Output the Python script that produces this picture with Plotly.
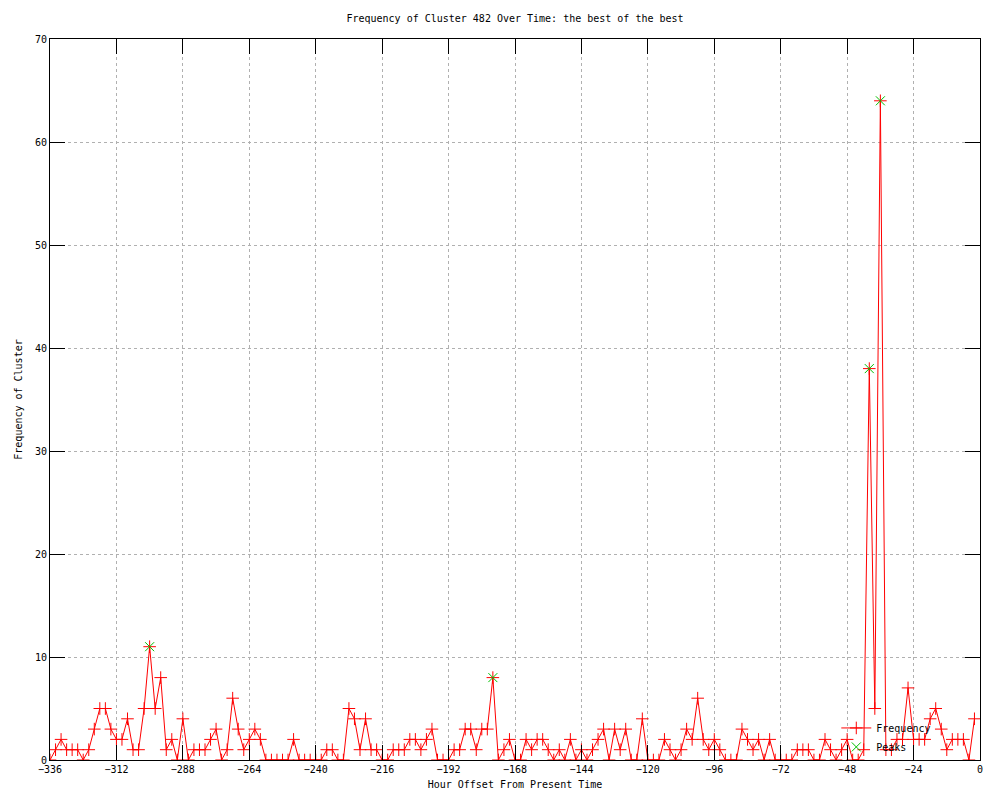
import plotly.graph_objects as go

# Hour offsets (every 2 hours) from -336 to -2
hours = [-336, -334, -332, -330, -328, -326, -324, -322, -320, -318, -316, -314,
         -312, -310, -308, -306, -304, -302, -300, -298, -296, -294, -292, -290,
         -288, -286, -284, -282, -280, -278, -276, -274, -272, -270, -268, -266,
         -264, -262, -260, -258, -256, -254, -252, -250, -248, -246, -244, -242,
         -240, -238, -236, -234, -232, -230, -228, -226, -224, -222, -220, -218,
         -216, -214, -212, -210, -208, -206, -204, -202, -200, -198, -196, -194,
         -192, -190, -188, -186, -184, -182, -180, -178, -176, -174, -172, -170,
         -168, -166, -164, -162, -160, -158, -156, -154, -152, -150, -148, -146,
         -144, -142, -140, -138, -136, -134, -132, -130, -128, -126, -124, -122,
         -120, -118, -116, -114, -112, -110, -108, -106, -104, -102, -100, -98,
         -96, -94, -92, -90, -88, -86, -84, -82, -80, -78, -76, -74,
         -72, -70, -68, -66, -64, -62, -60, -58, -56, -54, -52, -50,
         -48, -46, -44, -42, -40, -38, -36, -34, -32, -30, -28, -26,
         -24, -22, -20, -18, -16, -14, -12, -10, -8, -6, -4, -2]

frequency = [0, 1, 2, 1, 1, 1, 0, 1, 3, 5, 5, 3,
             2, 2, 4, 1, 1, 5, 11, 5, 8, 1, 2, 0,
             4, 0, 1, 1, 1, 2, 3, 0, 1, 6, 3, 1,
             2, 3, 2, 0, 0, 0, 0, 0, 2, 0, 0, 0,
             0, 0, 1, 1, 0, 0, 5, 4, 1, 4, 1, 1,
             0, 0, 1, 1, 1, 2, 2, 1, 2, 3, 0, 0,
             0, 1, 1, 3, 3, 1, 3, 3, 8, 0, 1, 2,
             0, 0, 2, 1, 2, 2, 1, 0, 1, 0, 2, 0,
             1, 0, 1, 2, 3, 0, 3, 1, 3, 0, 0, 4,
             0, 0, 0, 2, 1, 0, 1, 3, 2, 6, 2, 1,
             2, 1, 0, 0, 0, 3, 2, 1, 2, 0, 2, 0,
             0, 0, 0, 1, 1, 1, 0, 0, 2, 1, 0, 1,
             2, 0, 0, 1, 38, 5, 64, 1, 1, 2, 2, 7,
             2, 2, 2, 4, 5, 3, 1, 2, 2, 2, 0, 4]

peak_hours = [-300, -176, -40, -36]
peak_values = [11, 8, 38, 64]

x_ticks = [-336, -312, -288, -264, -240, -216, -192, -168, -144, -120, -96, -72, -48, -24, 0]
y_ticks = [0, 10, 20, 30, 40, 50, 60, 70]

FONT = "DejaVu Sans Mono"

fig = go.Figure()
fig.add_trace(go.Scatter(
    x=hours, y=frequency, mode="lines+markers", name="Frequency",
    line=dict(color="#ff0000", width=1),
    marker=dict(symbol="cross-thin", size=9, color="#ff0000",
                line=dict(color="#ff0000", width=1)),
))
fig.add_trace(go.Scatter(
    x=peak_hours, y=peak_values, mode="markers", name="Peaks",
    marker=dict(symbol="x-thin", size=9, color="#00c000",
                line=dict(color="#00c000", width=1)),
))

axis_common = dict(
    showline=True, linecolor="black", linewidth=1, mirror="allticks",
    ticks="inside", ticklen=15, tickcolor="black", tickwidth=1,
    showgrid=True, gridcolor="#b0b0b0", griddash="dot", gridwidth=1,
    zeroline=False,
    tickfont=dict(family=FONT, size=10, color="black"),
)

fig.update_layout(
    width=1000, height=800,
    margin=dict(l=50, r=20, t=39, b=40),
    paper_bgcolor="white", plot_bgcolor="white",
    font=dict(family=FONT, size=10, color="black"),
    title=dict(text="Frequency of Cluster 482 Over Time: the best of the best",
               x=0.515, xref="container", xanchor="center",
               y=1 - 18 / 800, yref="container", yanchor="middle",
               font=dict(family=FONT, size=10, color="black")),
    xaxis=dict(range=[-336, 0], tickvals=x_ticks,
               title=dict(text="Hour Offset From Present Time", standoff=6,
                          font=dict(family=FONT, size=10)),
               automargin=False, **axis_common),
    yaxis=dict(range=[0, 70], tickvals=y_ticks,
               title=dict(text="Frequency of Cluster", standoff=10,
                          font=dict(family=FONT, size=10)),
               automargin=False, **axis_common),
    legend=dict(x=0.953, y=-0.002, xanchor="right", yanchor="bottom",
                bgcolor="rgba(0,0,0,0)", borderwidth=0,
                font=dict(family=FONT, size=10, color="black"),
                tracegroupgap=0, itemwidth=30),
    showlegend=True,
)

fig.write_html("out.html", config={"displayModeBar": False},
               post_script="document.body.style.margin='0';document.body.style.overflow='hidden';")
